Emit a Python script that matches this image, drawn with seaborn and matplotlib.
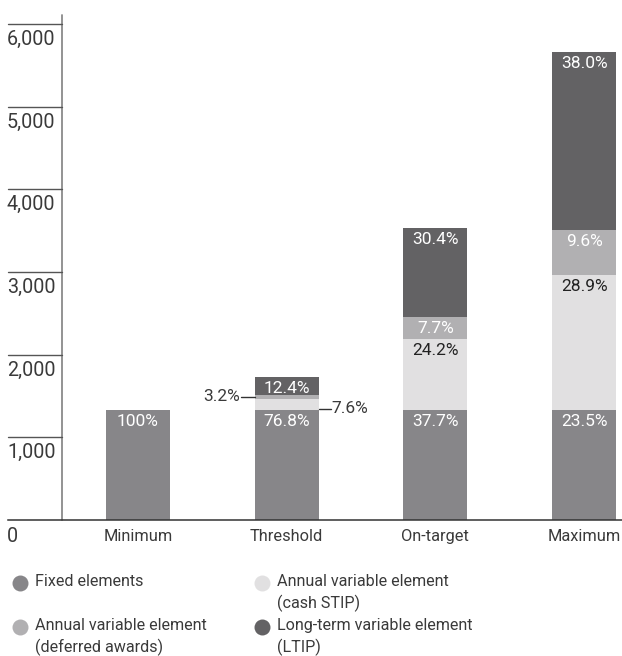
import matplotlib
matplotlib.use("Agg")
import matplotlib.pyplot as plt
import seaborn as sns
import numpy as np
import pandas as pd
from matplotlib.lines import Line2D

# ---- data ----
categories = ["Minimum", "Threshold", "On-target", "Maximum"]
fixed = [1330, 1330, 1330, 1330]
stip = [0, 131, 854, 1636]
deferred = [0, 55, 272, 543]
ltip = [0, 215, 1073, 2151]

fixed_pct = ["100%", "76.8%", "37.7%", "23.5%"]
stip_pct = [None, "7.6%", "24.2%", "28.9%"]
deferred_pct = [None, "3.2%", "7.7%", "9.6%"]
ltip_pct = [None, "12.4%", "30.4%", "38.0%"]

yticks = [1000, 2000, 3000, 4000, 5000, 6000]
ytick_labels = ["1,000", "2,000", "3,000", "4,000", "5,000", "6,000"]

legend_labels = ["Fixed elements", "Annual variable element\n(deferred awards)",
                 "Annual variable element\n(cash STIP)", "Long-term variable element\n(LTIP)"]

# ---- style ----
sns.set_style("white")
plt.rcParams['font.family'] = ['Roboto', 'DejaVu Sans']

c_fixed = "#878689"
c_stip = "#e1e0e1"
c_def = "#b1b0b2"
c_ltip = "#636264"
txt = "#3a3a3a"

W, H = 622, 656
fig = plt.figure(figsize=(W / 100, H / 100), dpi=100)
ax = fig.add_axes([8 / W, (H - 520) / H, (622 - 8) / W, (520 - 15) / H])

df = pd.DataFrame({"cat": categories, "fixed": fixed, "stip": stip,
                   "deferred": deferred, "ltip": ltip})
df["c1"] = df["fixed"]
df["c2"] = df["c1"] + df["stip"]
df["c3"] = df["c2"] + df["deferred"]
df["c4"] = df["c3"] + df["ltip"]

bw = 0.43
for col, colr in [("c4", c_ltip), ("c3", c_def), ("c2", c_stip), ("c1", c_fixed)]:
    sns.barplot(data=df, x="cat", y=col, color=colr, width=bw, ax=ax,
                saturation=1, linewidth=0, order=categories)

xl, xr = -0.874, 3.255
ax.set_xlim(xl, xr)
ax.set_ylim(0, 6110)
ax.set_xlabel("")
ax.set_ylabel("")
ax.set_xticks([])
ax.set_yticks([])
for s in ["top", "right", "left"]:
    ax.spines[s].set_visible(False)
ax.spines["bottom"].set_color("#333333")
ax.spines["bottom"].set_linewidth(1.1)

yaxis_x = -0.511
ax.plot([yaxis_x, yaxis_x], [0, 6110], color="#8a8a8a", lw=1.3, clip_on=False)
tfs = 14.2
for v, lab in zip(yticks, ytick_labels):
    ax.plot([xl, yaxis_x], [v, v], color="#555555", lw=1.0, clip_on=False)
    ax.annotate(lab, (xl, v), xytext=(-1, -6), textcoords="offset pixels",
                ha="left", va="top", fontsize=tfs, color=txt)
ax.annotate("0", (xl, 0), xytext=(-1, -7), textcoords="offset pixels",
            ha="left", va="top", fontsize=tfs, color=txt)

for i, c in enumerate(categories):
    ax.annotate(c, (i, 0), xytext=(0, -9), textcoords="offset pixels",
                ha="center", va="top", fontsize=11.8, color=txt)

fs = 12.5
def seg_label(i, top, lab, color):
    ax.annotate(lab, (i, top), xytext=(0, -4), textcoords="offset pixels",
                ha="center", va="top", fontsize=fs, color=color)

for i in range(len(categories)):
    seg_label(i, df["c1"][i], fixed_pct[i], "white")
    if i >= 2:
        seg_label(i, df["c2"][i], stip_pct[i], "#222222")
        seg_label(i, df["c3"][i], deferred_pct[i], "white")
    if i >= 1:
        seg_label(i, df["c4"][i], ltip_pct[i], "white")

# Threshold small segments annotated outside
i = 1
half = bw / 2
ymid_def = (df["c2"][i] + df["c3"][i]) / 2
ymid_stip = (df["c1"][i] + df["c2"][i]) / 2 - 50
ax.plot([i - half - 0.09, i - half], [ymid_def, ymid_def], color="#333333", lw=1)
ax.annotate(deferred_pct[i], (i - half - 0.09, ymid_def), xytext=(-1, 0),
            textcoords="offset pixels", ha="right", va="center", fontsize=fs, color=txt)
ax.plot([i + half, i + half + 0.08], [ymid_stip, ymid_stip], color="#333333", lw=1)
ax.annotate(stip_pct[i], (i + half + 0.08, ymid_stip), xytext=(1, 0),
            textcoords="offset pixels", ha="left", va="center", fontsize=fs, color=txt)

# ---- legend (manual) ----
leg = [(20, 583, c_fixed, legend_labels[0]),
       (20, 627, c_def, legend_labels[1]),
       (262, 583, c_stip, legend_labels[2]),
       (262, 627, c_ltip, legend_labels[3])]
for x, y, colr, lab in leg:
    fig.add_artist(Line2D([x / W], [1 - y / H], marker="o", markersize=11.5,
                          color=colr, markeredgewidth=0, linestyle="none"))
    fig.text((x + 15) / W, 1 - (y - 9) / H, lab, ha="left", va="top",
             fontsize=11.6, color=txt, linespacing=1.4)

fig.savefig("out.png", dpi=100)
